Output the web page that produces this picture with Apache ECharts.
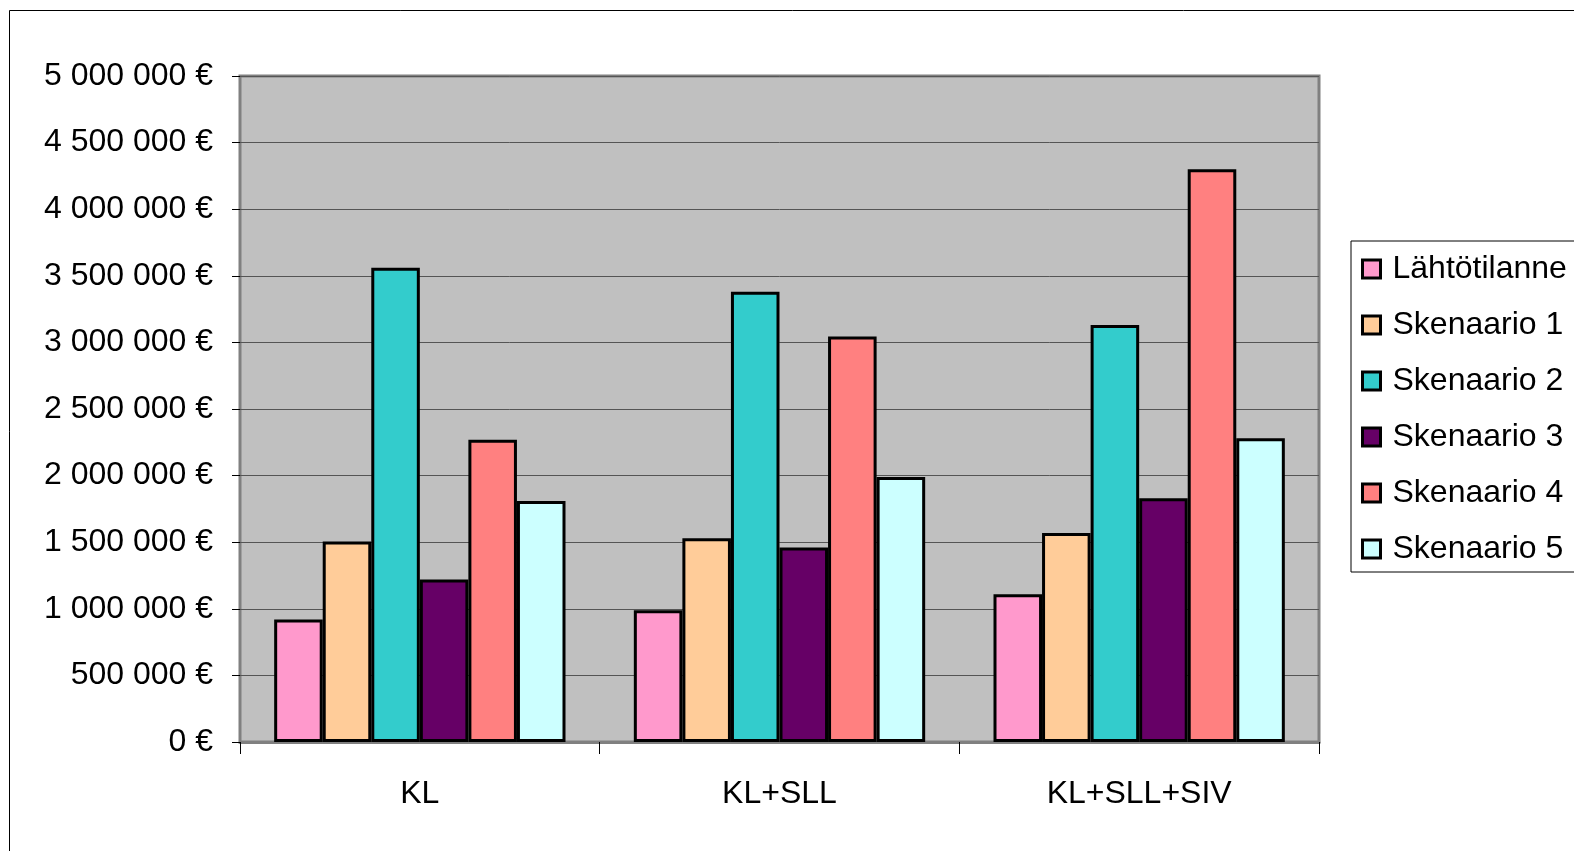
<!DOCTYPE html>
<html>
<head>
<meta charset="utf-8">
<script src="https://cdn.jsdelivr.net/npm/echarts@6/dist/echarts.min.js"></script>
<style>
html,body{margin:0;padding:0;background:#fff;}
#chart{width:1574px;height:851px;}
</style>
</head>
<body>
<div id="chart"></div>
<script>
const categories = ['KL', 'KL+SLL', 'KL+SLL+SIV'];
const seriesNames = ['Lähtötilanne', 'Skenaario 1', 'Skenaario 2', 'Skenaario 3', 'Skenaario 4', 'Skenaario 5'];
const lahtotilanne = [920000, 990000, 1110000];
const skenaario1 = [1505000, 1530000, 1570000];
const skenaario2 = [3560000, 3380000, 3130000];
const skenaario3 = [1220000, 1460000, 1830000];
const skenaario4 = [2270000, 3045000, 4300000];
const skenaario5 = [1810000, 1990000, 2280000];
const seriesColors = ['#FF99CC', '#FFCC99', '#33CCCC', '#660066', '#FF8080', '#CCFFFF'];
const yMin = 0, yMax = 5000000, yStep = 500000;

const values = [lahtotilanne, skenaario1, skenaario2, skenaario3, skenaario4, skenaario5];
const FONT = '"Liberation Sans", Arial, sans-serif';

function fmt(v) {
  return String(Math.round(v)).replace(/\B(?=(\d{3})+(?!\d))/g, ' ') + ' €';
}

const chart = echarts.init(document.getElementById('chart'), null, {renderer: 'canvas'});
chart.setOption({
  animation: false,
  backgroundColor: '#ffffff',
  textStyle: {fontFamily: FONT},
  graphic: [{
    type: 'rect',
    shape: {x: 9.5, y: 10.5, width: 1600, height: 900},
    style: {fill: 'none', stroke: '#000', lineWidth: 1},
    z: -10
  }],
  grid: {
    left: 240, top: 76, width: 1079, height: 666,
    show: true, backgroundColor: '#C0C0C0', borderColor: '#808080', borderWidth: 3,
    containLabel: false
  },
  legend: {
    orient: 'vertical',
    left: 1351, top: 241,
    data: seriesNames,
    backgroundColor: '#fff',
    borderColor: '#000', borderWidth: 1,
    padding: [10, 20, 5, 10],
    itemWidth: 18, itemHeight: 18, itemGap: 20,
    icon: 'rect',
    itemStyle: {borderColor: '#000', borderWidth: 3},
    textStyle: {fontSize: 32, color: '#000', fontFamily: FONT, lineHeight: 36, padding: [0, 0, 0, 7]}
  },
  xAxis: {
    type: 'category',
    data: categories,
    axisLine: {show: true, lineStyle: {color: '#808080', width: 3}},
    axisTick: {show: true, length: 12, lineStyle: {color: '#000', width: 1}},
    axisLabel: {fontSize: 32, color: '#000', margin: 36, fontFamily: FONT},
    splitLine: {show: false}
  },
  yAxis: {
    type: 'value',
    min: yMin, max: yMax, interval: yStep,
    axisLine: {show: false},
    axisTick: {show: true, length: 8, lineStyle: {color: '#000', width: 1}},
    axisLabel: {fontSize: 32, color: '#000', margin: 27, fontFamily: FONT, formatter: fmt},
    splitLine: {show: true, lineStyle: {color: '#555555', width: 1}}
  },
  series: seriesNames.map((name, i) => ({
    name: name,
    type: 'bar',
    data: values[i],
    barGap: '0%',
    barCategoryGap: '19%',
    itemStyle: {color: seriesColors[i], borderColor: '#000', borderWidth: 3}
  }))
});
</script>
</body>
</html>
